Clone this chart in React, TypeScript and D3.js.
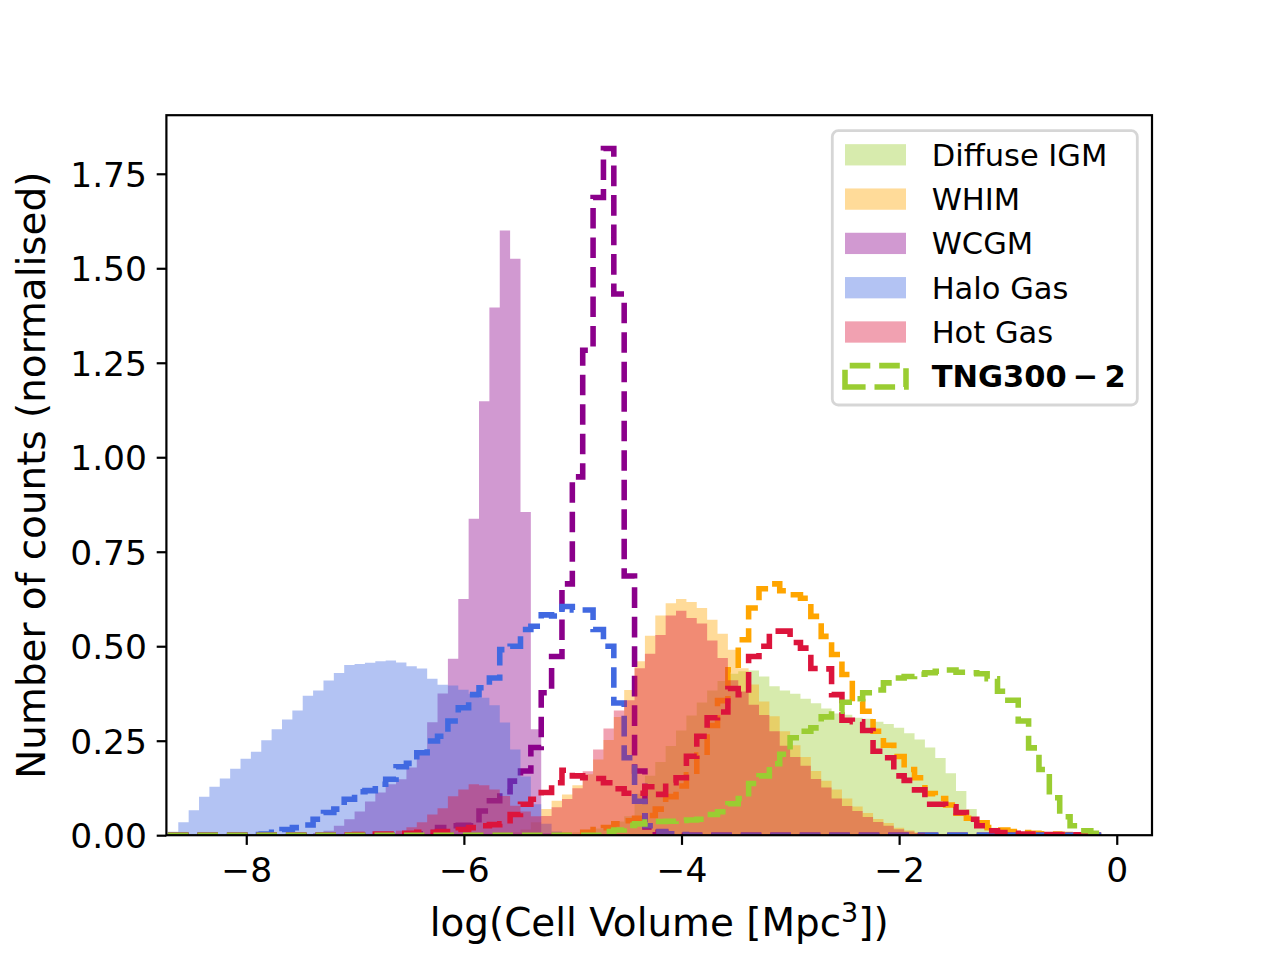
import * as d3 from 'd3'
import { useEffect, useRef } from 'react'

// common histogram bins (log cell volume)
const BIN_START = -8.72
const BIN_WIDTH = 0.0953
const N_BINS = 90

// normalised counts, each list starts at the given bin index
const diffuseFillStart = 38
const diffuseFill = [
  0.004, 0.008, 0.012, 0.018, 0.026, 0.036, 0.05, 0.11, 0.157, 0.194, 0.236,
  0.277, 0.317, 0.351, 0.383, 0.408, 0.427, 0.434, 0.436, 0.42, 0.394, 0.383,
  0.374, 0.361, 0.349, 0.335, 0.322, 0.319, 0.311, 0.308, 0.3, 0.294, 0.284,
  0.27, 0.253, 0.232, 0.204, 0.164, 0.117, 0.069, 0.035, 0.02, 0.011, 0.005,
  0.002,
]

const whimFillStart = 31
const whimFill = [
  0.003, 0.005, 0.008, 0.015, 0.034, 0.069, 0.091, 0.108, 0.132, 0.161, 0.2,
  0.252, 0.313, 0.384, 0.46, 0.528, 0.581, 0.614, 0.625, 0.617, 0.601, 0.57,
  0.533, 0.491, 0.442, 0.399, 0.354, 0.315, 0.275, 0.238, 0.207, 0.17, 0.144,
  0.121, 0.097, 0.076, 0.059, 0.043, 0.032, 0.02, 0.013, 0.008, 0.005, 0.003,
  0.002,
]

const wcgmFillStart = 13
const wcgmFill = [
  0.003, 0.006, 0.012, 0.025, 0.042, 0.063, 0.089, 0.113, 0.135, 0.148, 0.179,
  0.22, 0.299, 0.375, 0.467, 0.625, 0.837, 1.148, 1.396, 1.6, 1.525, 0.855,
  0.28, 0.005,
]

const haloFillStart = 0
const haloFill = [
  0.009, 0.034, 0.066, 0.102, 0.128, 0.15, 0.176, 0.202, 0.221, 0.251, 0.28,
  0.306, 0.33, 0.369, 0.383, 0.409, 0.429, 0.45, 0.453, 0.456, 0.46, 0.462,
  0.457, 0.447, 0.441, 0.414, 0.398, 0.396, 0.385, 0.374, 0.364, 0.344, 0.298,
  0.227, 0.155, 0.082, 0.03, 0.01, 0.004, 0.002,
]

const hotFillStart = 19
const hotFill = [
  0.002, 0.004, 0.005, 0.012, 0.021, 0.034, 0.055, 0.071, 0.103, 0.121, 0.135,
  0.132, 0.121, 0.104, 0.078, 0.063, 0.05, 0.051, 0.074, 0.096, 0.124, 0.169,
  0.227, 0.282, 0.33, 0.357, 0.442, 0.48, 0.53, 0.581, 0.594, 0.575, 0.56,
  0.515, 0.469, 0.41, 0.38, 0.345, 0.318, 0.275, 0.237, 0.207, 0.184, 0.149,
  0.126, 0.097, 0.077, 0.064, 0.048, 0.035, 0.025, 0.016, 0.01, 0.006, 0.003,
  0.002,
]

// TNG300-2 (dashed outlines)
const whimStepStart = 40
const whimStep = [
  0.008, 0.015, 0.02, 0.03, 0.038, 0.045, 0.052, 0.069, 0.102, 0.13, 0.16,
  0.212, 0.29, 0.356, 0.438, 0.517, 0.601, 0.652, 0.665, 0.647, 0.636, 0.627,
  0.579, 0.526, 0.478, 0.425, 0.354, 0.328, 0.275, 0.238, 0.208, 0.174, 0.152,
  0.11, 0.097, 0.08, 0.058, 0.045, 0.033, 0.02, 0.014, 0.01, 0.007, 0.005,
  0.004, 0.003, 0.002,
]

const wcgmStepStart = 23
const wcgmStep = [
  0.002, 0.004, 0.007, 0.02, 0.025, 0.026, 0.025, 0.064, 0.091, 0.115, 0.143,
  0.17, 0.232, 0.377, 0.473, 0.665, 0.948, 1.283, 1.687, 1.817, 1.432, 0.686,
  0.17, 0.022, 0.008, 0.003,
]

const haloStepStart = 8
const haloStep = [
  0.002, 0.003, 0.008, 0.015, 0.02, 0.027, 0.042, 0.06, 0.069, 0.095, 0.115,
  0.118, 0.135, 0.148, 0.181, 0.19, 0.218, 0.249, 0.262, 0.302, 0.337, 0.372,
  0.39, 0.416, 0.491, 0.5, 0.544, 0.553, 0.583, 0.58, 0.605, 0.596, 0.596,
  0.544, 0.5, 0.35, 0.205, 0.09, 0.025, 0.01, 0.004, 0.002,
]

const hotStepStart = 17
const hotStep = [
  0.001, 0.002, 0.002, 0.003, 0.003, 0.005, 0.005, 0.008, 0.008, 0.01, 0.01,
  0.015, 0.02, 0.025, 0.028, 0.03, 0.055, 0.082, 0.095, 0.113, 0.139, 0.172,
  0.157, 0.152, 0.15, 0.139, 0.123, 0.111, 0.111, 0.128, 0.108, 0.139, 0.152,
  0.209, 0.262, 0.311, 0.326, 0.388, 0.372, 0.473, 0.5, 0.54, 0.54, 0.51,
  0.495, 0.441, 0.44, 0.372, 0.304, 0.3, 0.277, 0.222, 0.205, 0.157, 0.145,
  0.12, 0.082, 0.082, 0.075, 0.06, 0.042, 0.025, 0.012, 0.007, 0.005, 0.003,
  0.003, 0.002, 0.002, 0.002, 0.001,
]

const diffuseStepStart = 42
const diffuseStep = [
  0.01, 0.014, 0.026, 0.03, 0.035, 0.036, 0.037, 0.039, 0.04, 0.042, 0.055,
  0.062, 0.083, 0.097, 0.137, 0.157, 0.189, 0.214, 0.258, 0.275, 0.284, 0.313,
  0.328, 0.352, 0.361, 0.377, 0.384, 0.403, 0.416, 0.42, 0.426, 0.43, 0.434,
  0.437, 0.431, 0.43, 0.427, 0.414, 0.381, 0.357, 0.302, 0.231, 0.174, 0.099,
  0.049, 0.025, 0.012, 0.005,
]

const legendLabels = ['Diffuse IGM', 'WHIM', 'WCGM', 'Halo Gas', 'Hot Gas']
const legendStepLabel = 'TNG300\u2009\u2212\u20092'
const xTicks = [-8, -6, -4, -2, 0]
const yTicks = [0, 0.25, 0.5, 0.75, 1, 1.25, 1.5, 1.75]

const COLORS = {
  diffuse: '#9acd32',
  whim: '#ffa500',
  wcgm: '#8b008b',
  halo: '#4169e1',
  hot: '#dc143c',
}

const FONT = '"DejaVu Sans", Verdana, sans-serif'

export default function App() {
  const svgRef = useRef<SVGSVGElement>(null)

  useEffect(() => {
    if (!svgRef.current) return
    d3.select(svgRef.current).selectAll('*').remove()

    const width = 1280
    const height = 960
    const margin = { top: 115.2, right: 128, bottom: 124.8, left: 166.4 }
    const svg = d3
      .select(svgRef.current)
      .attr('width', width)
      .attr('height', height)

    svg.append('rect').attr('width', width).attr('height', height).attr('fill', 'white')

    const x = d3
      .scaleLinear()
      .domain([-8.734, 0.324])
      .range([margin.left, width - margin.right])
    const y = d3
      .scaleLinear()
      .domain([0, 1.905])
      .range([height - margin.bottom, margin.top])

    const edges = d3.range(N_BINS + 1).map(i => BIN_START + i * BIN_WIDTH)
    const full = (start: number, values: number[]) => {
      const arr = new Array(N_BINS).fill(0)
      values.forEach((v, i) => (arr[start + i] = v))
      return arr
    }
    const stepPoints = (counts: number[]) => {
      const pts: [number, number][] = [[edges[0], 0]]
      counts.forEach((c, i) => {
        pts.push([edges[i], c])
        pts.push([edges[i + 1], c])
      })
      pts.push([edges[N_BINS], 0])
      return pts
    }
    const line = d3
      .line<[number, number]>()
      .x(d => x(d[0]))
      .y(d => y(d[1]))

    // Clip to axes
    svg
      .append('defs')
      .append('clipPath')
      .attr('id', 'plot-clip')
      .append('rect')
      .attr('x', margin.left)
      .attr('y', margin.top)
      .attr('width', width - margin.left - margin.right)
      .attr('height', height - margin.top - margin.bottom)

    const plot = svg.append('g').attr('clip-path', 'url(#plot-clip)')

    const drawFill = (counts: number[], color: string) => {
      plot
        .append('path')
        .attr('d', line(stepPoints(counts)) + 'Z')
        .attr('fill', color)
        .attr('fill-opacity', 0.4)
        .attr('stroke', 'none')
    }
    const drawStep = (counts: number[], color: string) => {
      plot
        .append('path')
        .attr('d', line(stepPoints(counts)))
        .attr('fill', 'none')
        .attr('stroke', color)
        .attr('stroke-width', 5.56)
        .attr('stroke-dasharray', '20.6 8.9')
        .attr('stroke-linejoin', 'miter')
        .attr('stroke-linecap', 'butt')
    }

    drawFill(full(diffuseFillStart, diffuseFill), COLORS.diffuse)
    drawFill(full(whimFillStart, whimFill), COLORS.whim)
    drawStep(full(whimStepStart, whimStep), COLORS.whim)
    drawFill(full(wcgmFillStart, wcgmFill), COLORS.wcgm)
    drawStep(full(wcgmStepStart, wcgmStep), COLORS.wcgm)
    drawFill(full(haloFillStart, haloFill), COLORS.halo)
    drawStep(full(haloStepStart, haloStep), COLORS.halo)
    drawFill(full(hotFillStart, hotFill), COLORS.hot)
    drawStep(full(hotStepStart, hotStep), COLORS.hot)
    drawStep(full(diffuseStepStart, diffuseStep), COLORS.diffuse)

    // X axis
    const xAxis = svg
      .append('g')
      .attr('transform', `translate(0,${height - margin.bottom})`)
      .call(
        d3
          .axisBottom(x)
          .tickValues(xTicks)
          .tickSize(9.7)
          .tickSizeOuter(0)
          .tickPadding(9.7)
          .tickFormat(d => (+d < 0 ? '\u2212' + Math.abs(+d) : String(d)))
      )
    xAxis.select('.domain').remove()
    xAxis.selectAll('line').attr('stroke', 'black').attr('stroke-width', 2.2)
    xAxis
      .selectAll('text')
      .attr('fill', 'black')
      .attr('dy', '0.8em')
      .style('font-family', FONT)
      .style('font-size', '34.5px')

    // Y axis
    const yAxis = svg
      .append('g')
      .attr('transform', `translate(${margin.left},0)`)
      .call(
        d3
          .axisLeft(y)
          .tickValues(yTicks)
          .tickSize(9.7)
          .tickSizeOuter(0)
          .tickPadding(9.7)
          .tickFormat(d3.format('.2f'))
      )
    yAxis.select('.domain').remove()
    yAxis.selectAll('line').attr('stroke', 'black').attr('stroke-width', 2.2)
    yAxis
      .selectAll('text')
      .attr('fill', 'black')
      .attr('dy', '0.36em')
      .style('font-family', FONT)
      .style('font-size', '34.5px')

    // Spines
    svg
      .append('rect')
      .attr('x', margin.left)
      .attr('y', margin.top)
      .attr('width', width - margin.left - margin.right)
      .attr('height', height - margin.top - margin.bottom)
      .attr('fill', 'none')
      .attr('stroke', 'black')
      .attr('stroke-width', 2.2)

    // Axis labels
    const xLabel = svg
      .append('text')
      .attr('x', (margin.left + width - margin.right) / 2)
      .attr('y', 936)
      .attr('text-anchor', 'middle')
      .style('font-family', FONT)
      .style('font-size', '38.9px')
    xLabel.append('tspan').text('log(Cell Volume [Mpc')
    xLabel.append('tspan').attr('dy', -14).style('font-size', '27px').text('3')
    xLabel.append('tspan').attr('dy', 14).text('])')

    svg
      .append('text')
      .attr('transform', `translate(45,${(margin.top + height - margin.bottom) / 2}) rotate(-90)`)
      .attr('text-anchor', 'middle')
      .style('font-family', FONT)
      .style('font-size', '38.9px')
      .text('Number of counts (normalised)')

    // Legend
    const legend = svg.append('g')
    legend
      .append('rect')
      .attr('x', 832.3)
      .attr('y', 130.7)
      .attr('width', 305)
      .attr('height', 274.3)
      .attr('rx', 6)
      .attr('fill', 'white')
      .attr('fill-opacity', 0.8)
      .attr('stroke', '#cccccc')
      .attr('stroke-opacity', 0.8)
      .attr('stroke-width', 2.78)

    const legendColors = [COLORS.diffuse, COLORS.whim, COLORS.wcgm, COLORS.halo, COLORS.hot]
    const rowY = (i: number) => 154.8 + i * 44.3
    legendLabels.forEach((label, i) => {
      legend
        .append('rect')
        .attr('x', 845)
        .attr('y', rowY(i) - 10.65)
        .attr('width', 61)
        .attr('height', 21.3)
        .attr('fill', legendColors[i])
        .attr('fill-opacity', 0.4)
      legend
        .append('text')
        .attr('x', 931.7)
        .attr('y', rowY(i) + 11)
        .style('font-family', FONT)
        .style('font-size', '30.5px')
        .text(label)
    })
    const cy = rowY(5)
    legend
      .append('path')
      .attr('d', `M845,${cy + 10.65}H906V${cy - 10.65}H845Z`)
      .attr('fill', 'none')
      .attr('stroke', COLORS.diffuse)
      .attr('stroke-width', 5.56)
      .attr('stroke-dasharray', '20.6 8.9')
    legend
      .append('text')
      .attr('x', 931.7)
      .attr('y', cy + 11)
      .style('font-family', FONT)
      .style('font-size', '30.5px')
      .style('font-weight', 'bold')
      .text(legendStepLabel)
  }, [])

  return (
    <svg
      ref={svgRef}
      style={{ position: 'absolute', left: 0, top: 0, display: 'block' }}
    ></svg>
  )
}
